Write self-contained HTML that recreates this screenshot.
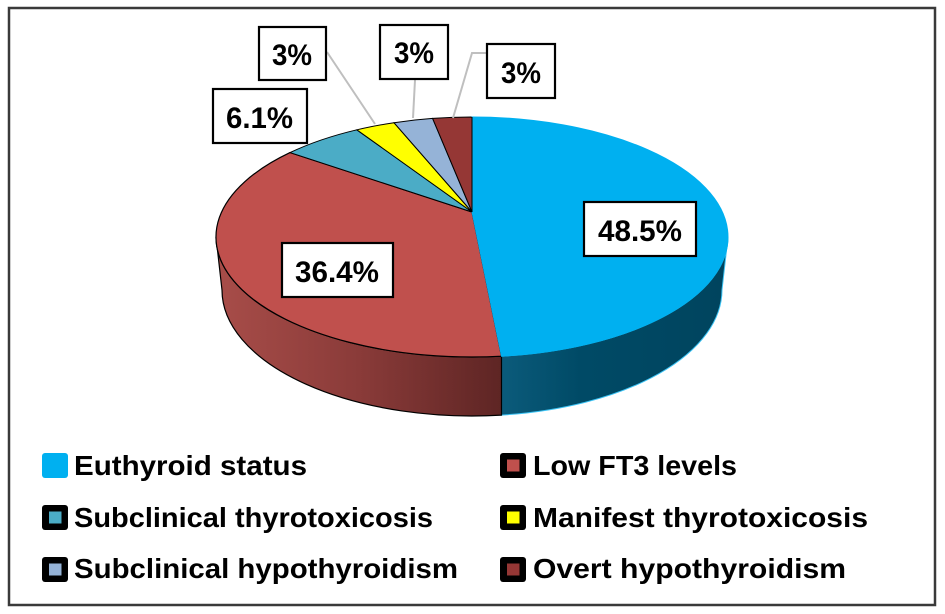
<!DOCTYPE html>
<html>
<head>
<meta charset="utf-8">
<style>
html,body{margin:0;padding:0;background:#fff;}
body{width:945px;height:614px;overflow:hidden;}
svg{display:block;}
text{font-family:"Liberation Sans",sans-serif;font-weight:bold;fill:#000;}
</style>
</head>
<body>
<svg width="945" height="614" viewBox="0 0 945 614" xmlns="http://www.w3.org/2000/svg">
<defs>
<linearGradient id="gRed" x1="216" y1="0" x2="502" y2="0" gradientUnits="userSpaceOnUse">
<stop offset="0" stop-color="#a84d49"/>
<stop offset="0.5" stop-color="#8a3b39"/>
<stop offset="1" stop-color="#5e2524"/>
</linearGradient>
<linearGradient id="gBlue" x1="501" y1="0" x2="728" y2="0" gradientUnits="userSpaceOnUse">
<stop offset="0" stop-color="#0b5b7b"/>
<stop offset="0.35" stop-color="#004a66"/>
<stop offset="1" stop-color="#00445e"/>
</linearGradient>
</defs>
<rect x="0" y="0" width="945" height="614" fill="#fff"/>
<rect x="9" y="8" width="926" height="597" fill="#fff" stroke="#3a3a3a" stroke-width="2.5"/>

<!-- sides -->
<path d="M501.5,356.2 A256 120 0 0 0 728,237 L722,290 A250 126 0 0 1 501.5,415.1 Z" fill="url(#gBlue)" stroke="#3cc4f5" stroke-width="1"/>
<path d="M501.5,356.2 A256 120 0 0 1 216,237 L222,290 A250 126 0 0 0 501.5,415.1 Z" fill="url(#gRed)" stroke="#000" stroke-width="1.2"/>

<!-- top faces -->
<path d="M472,212 L501.5,356.2 A256 120 0 0 1 290,152.6 Z" fill="#C0504D" stroke="#000" stroke-width="1.2"/>
<path d="M472,212 L290,152.6 A256 120 0 0 1 356.8,129.8 Z" fill="#4BACC6" stroke="#000" stroke-width="1"/>
<path d="M472,212 L356.8,129.8 A256 120 0 0 1 394,122.7 Z" fill="#FFFF00" stroke="#000" stroke-width="1"/>
<path d="M472,212 L394,122.7 A256 120 0 0 1 432.6,118.4 Z" fill="#95B3D7" stroke="#000" stroke-width="1"/>
<path d="M472,212 L432.6,118.4 A256 120 0 0 1 472,117 Z" fill="#953735" stroke="#000" stroke-width="1"/>
<path d="M472,212 L472,117 A256 120 0 0 1 501.5,356.2 Z" fill="#00B0F0" stroke="#00B0F0" stroke-width="1"/>
<line x1="472" y1="117" x2="472" y2="212" stroke="#000" stroke-width="1"/>

<!-- leader lines -->
<polyline points="327,52 375,124" fill="none" stroke="#bfbfbf" stroke-width="2"/>
<polyline points="415,80 413,118" fill="none" stroke="#bfbfbf" stroke-width="2"/>
<polyline points="487,53 472,53 453,118" fill="none" stroke="#bfbfbf" stroke-width="2"/>

<!-- data labels -->
<rect x="584" y="202" width="112" height="54" fill="#fff" stroke="#000" stroke-width="2.2"/>
<text x="598" y="241" font-size="30" textLength="84" lengthAdjust="spacingAndGlyphs">48.5%</text>
<rect x="282" y="243" width="111" height="54" fill="#fff" stroke="#000" stroke-width="2.2"/>
<text x="295" y="282" font-size="30" textLength="84" lengthAdjust="spacingAndGlyphs">36.4%</text>
<rect x="213" y="89" width="94" height="54" fill="#fff" stroke="#000" stroke-width="2.2"/>
<text x="226" y="128" font-size="30" textLength="67" lengthAdjust="spacingAndGlyphs">6.1%</text>
<rect x="259" y="27" width="67" height="53" fill="#fff" stroke="#000" stroke-width="2.2"/>
<text x="272" y="65" font-size="30" textLength="40" lengthAdjust="spacingAndGlyphs">3%</text>
<rect x="380" y="25" width="68" height="54" fill="#fff" stroke="#000" stroke-width="2.2"/>
<text x="394" y="63" font-size="30" textLength="40" lengthAdjust="spacingAndGlyphs">3%</text>
<rect x="487" y="44" width="68" height="54" fill="#fff" stroke="#000" stroke-width="2.2"/>
<text x="501" y="83" font-size="30" textLength="40" lengthAdjust="spacingAndGlyphs">3%</text>

<!-- legend -->
<rect x="42" y="453" width="26" height="25" rx="3" fill="#00B0F0"/>
<text x="74" y="475" font-size="28" textLength="233" lengthAdjust="spacingAndGlyphs">Euthyroid status</text>

<rect x="42" y="505" width="26" height="25" rx="3" fill="#000"/>
<rect x="49" y="511.5" width="12.5" height="12" fill="#4BACC6"/>
<text x="74" y="527" font-size="28" textLength="359" lengthAdjust="spacingAndGlyphs">Subclinical thyrotoxicosis</text>

<rect x="42" y="557" width="26" height="25" rx="3" fill="#000"/>
<rect x="49" y="563.5" width="12.5" height="12" fill="#95B3D7"/>
<text x="74" y="578" font-size="28" textLength="384" lengthAdjust="spacingAndGlyphs">Subclinical hypothyroidism</text>

<rect x="500" y="453" width="26" height="25" rx="3" fill="#000"/>
<rect x="507" y="459.5" width="12.5" height="12" fill="#C0504D"/>
<text x="533" y="475" font-size="28" textLength="204" lengthAdjust="spacingAndGlyphs">Low FT3 levels</text>

<rect x="500" y="505" width="26" height="25" rx="3" fill="#000"/>
<rect x="507" y="511.5" width="12.5" height="12" fill="#FFFF00"/>
<text x="533" y="527" font-size="28" textLength="335" lengthAdjust="spacingAndGlyphs">Manifest thyrotoxicosis</text>

<rect x="500" y="557" width="26" height="25" rx="3" fill="#000"/>
<rect x="507" y="563.5" width="12.5" height="12" fill="#953735"/>
<text x="533" y="578" font-size="28" textLength="313" lengthAdjust="spacingAndGlyphs">Overt hypothyroidism</text>
</svg>
</body>
</html>
